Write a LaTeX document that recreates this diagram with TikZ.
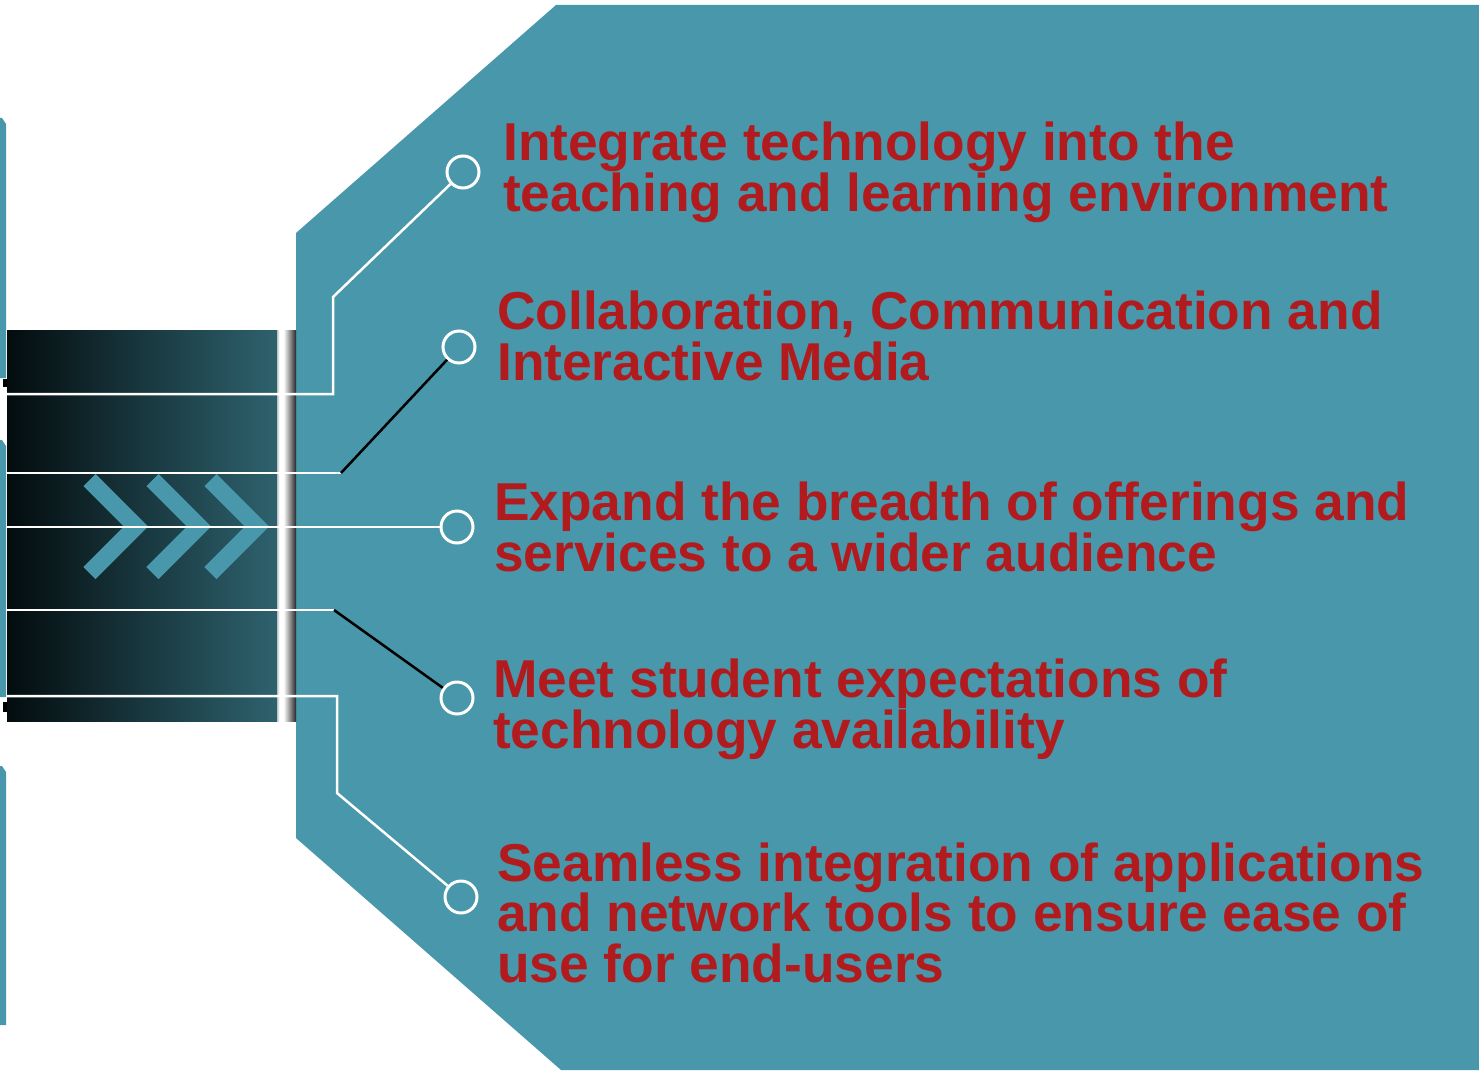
\documentclass[tikz,border=0pt]{standalone}
\usepackage{fontspec}
\setmainfont{Liberation Sans}
\usetikzlibrary{positioning}
\definecolor{hexteal}{RGB}{72,151,170}
\definecolor{goalred}{RGB}{178,27,30}
\definecolor{banddark}{RGB}{46,98,110}
\definecolor{bandblack}{RGB}{3,12,14}
\pgfdeclarehorizontalshading{rollshade}{100bp}{color(0bp)=(gray!50); color(25bp)=(gray!50); color(31bp)=(white); color(42bp)=(white); color(75bp)=(black!85); color(100bp)=(black!85)}
\tikzset{
wire/.style={draw=white, line width=2.5pt}, % white connector lines
blackwire/.style={draw=black, line width=2.5pt}, % black connector lines
dot/.style={circle, draw=white, line width=3pt, minimum size=32pt, inner sep=0pt}, % end circles
goal/.style={text=goalred, font=\fontsize{53.3}{50.5}\selectfont\bfseries, align=left, inner sep=0pt, anchor=base west}, % red goal texts, placed by their last line
chev/.style={draw=hexteal, line width=17pt, line join=miter, line cap=butt}, % arrow chevrons
}

\begin{document}
\begin{tikzpicture}[x=1pt, y=-1pt]
        \useasboundingbox (0,0) rectangle (1479,1070);
        % big panel and left edges
        \fill[hexteal] (556,5) -- (1479,5) -- (1479,1070) -- (561,1070) -- (296,838) -- (296,233) -- cycle;
        \foreach \t/\b in {118/378, 440/697, 766/1025}
            \fill[hexteal] (0,\t) -- (2,\t) -- (6,\t+6) -- (6,\b) -- (0,\b) -- cycle;
        \fill[black] (3,379) rectangle (7,387);
        \fill[black] (3,702) rectangle (7,712);
        % band
        \fill[left color=bandblack, right color=banddark] (7,330) rectangle (277,721);
        \fill[shading=rollshade] (277,330) rectangle (296,721);
        \foreach \x in {136,199,257}
            \draw[chev] (\x-46.5,480) -- (\x,526.5) -- (\x-46.5,573);
        \node[dot] (c1) at (463,172) {};
        \node[dot] (c2) at (459,347) {};
        \node[dot] (c3) at (457,527) {};
        \node[dot] (c4) at (457,698) {};
        \node[dot] (c5) at (461,897) {};
        \coordinate (s1) at (6,394); \coordinate (k1) at (333,394); \coordinate (m1) at (333,297);
        \coordinate (s2) at (6,473); \coordinate (k2) at (341,473);
        \coordinate (s3) at (6,527);
        \coordinate (s4) at (6,610); \coordinate (k4) at (334,610);
        \coordinate (s5) at (6,696); \coordinate (k5) at (337,696); \coordinate (m5) at (337,793);
        \draw[wire] (s1) -- (k1) -- (m1) -- (c1);
        \draw[wire] (s2) -- (k2);
        \draw[blackwire] (k2) -- (c2);
        \draw[wire] (s3) -- (c3);
        \draw[wire] (s4) -- (k4);
        \draw[blackwire] (k4) -- (c4);
        \draw[wire] (s5) -- (k5) -- (m5) -- (c5);
        \node[goal] (t1) at (503,211) {Integrate technology into the\\teaching and learning environment};
        \node[goal] (t2) at (497,380) {Collaboration, Communication and\\Interactive Media};
        \node[goal] (t3) at (494,571) {Expand the breadth of offerings and\\services to a wider audience};
        \node[goal] (t4) at (493,748) {Meet student expectations of\\technology availability};
        \node[goal] (t5) at (497,982) {Seamless integration of applications\\and network tools to ensure ease of\\use for end-users};
\end{tikzpicture}
\end{document}
